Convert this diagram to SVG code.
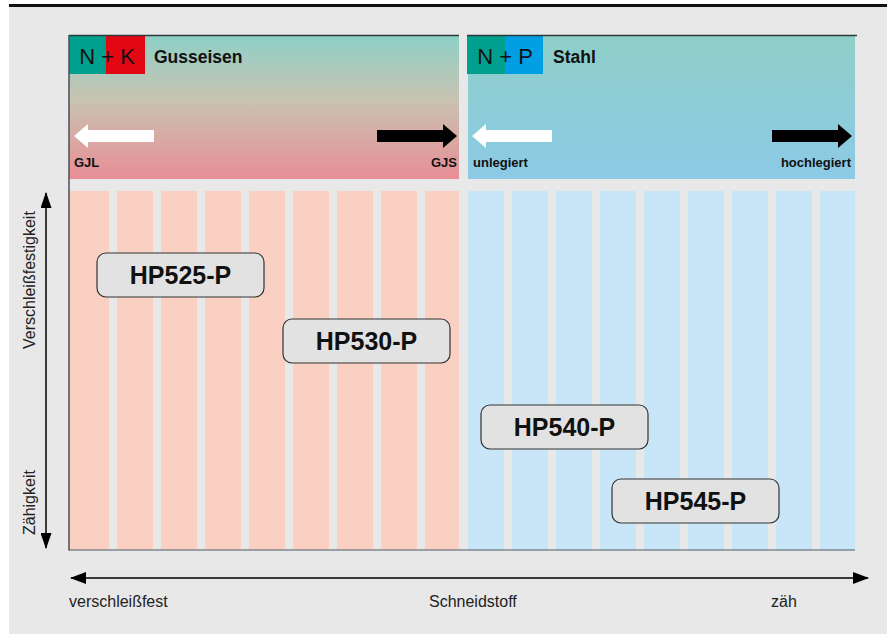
<svg xmlns="http://www.w3.org/2000/svg" width="887" height="634" viewBox="0 0 887 634">
<defs>
<linearGradient id="gLeft" x1="0" y1="0" x2="0" y2="1">
<stop offset="0" stop-color="#8dd0c7"/>
<stop offset="0.45" stop-color="#c9c3b1"/>
<stop offset="1" stop-color="#e88e96"/>
</linearGradient>
<linearGradient id="gRight" x1="0" y1="0" x2="0" y2="1">
<stop offset="0" stop-color="#8ecfc8"/>
<stop offset="1" stop-color="#8ccae6"/>
</linearGradient>
<marker id="ah" viewBox="0 0 16 12" refX="15" refY="6" markerWidth="16" markerHeight="12" markerUnits="userSpaceOnUse" orient="auto-start-reverse">
<path d="M0,0 L16,6 L0,12 Z" fill="#000"/>
</marker>
<marker id="av" viewBox="0 0 16 11" refX="15" refY="5.5" markerWidth="16" markerHeight="11" markerUnits="userSpaceOnUse" orient="auto-start-reverse">
<path d="M0,0 L16,5.5 L0,11 Z" fill="#000"/>
</marker>
</defs>
<style>
.pink{fill:#f9d0c1}
.blue{fill:#c8e6f8}
.box{fill:#e2e2e2;stroke:#333;stroke-width:1.2}
.lbl{font-family:"Liberation Sans",Arial,sans-serif;font-weight:bold;font-size:25px;fill:#111;text-anchor:middle}
.head{font-family:"Liberation Sans",Arial,sans-serif;font-weight:bold;font-size:17.5px;fill:#111}
.code{font-family:"Liberation Sans",Arial,sans-serif;font-size:22px;fill:#111}
.small{font-family:"Liberation Sans",Arial,sans-serif;font-weight:bold;font-size:13px;fill:#111}
.axis{font-family:"Liberation Sans",Arial,sans-serif;font-size:16px;fill:#222}
.ax{stroke:#000;stroke-width:1.5;fill:none}
</style>
<rect x="9" y="6" width="878" height="628" fill="#e8e8e8"/>
<rect x="9" y="4" width="878" height="3" fill="#111"/>

<g id="panel-gusseisen">
<rect x="69" y="35" width="390" height="144" fill="url(#gLeft)"/>
<rect x="69" y="35" width="37" height="39" fill="#00a08f"/>
<rect x="106" y="35" width="39" height="39" fill="#e30613"/>
<text class="code" x="107" y="64" text-anchor="middle">N + K</text>
<text class="head" x="154" y="63">Gusseisen</text>
<path d="M154,130 L88,130 L88,124 L74,136 L88,148 L88,142 L154,142 Z" fill="#fff"/>
<path d="M377,130 L443,130 L443,124 L457,136 L443,148 L443,142 L377,142 Z" fill="#000"/>
<text class="small" x="74" y="167">GJL</text>
<text class="small" x="457" y="167" text-anchor="end">GJS</text>
</g>

<g id="panel-stahl">
<rect x="468" y="35" width="387" height="144" fill="url(#gRight)"/>
<rect x="467" y="35" width="38" height="39" fill="#00a08f"/>
<rect x="505" y="35" width="38" height="39" fill="#009fe3"/>
<text class="code" x="505" y="64" text-anchor="middle">N + P</text>
<text class="head" x="553" y="63">Stahl</text>
<path d="M552,130 L486,130 L486,124 L472,136 L486,148 L486,142 L552,142 Z" fill="#fff"/>
<path d="M772,130 L838,130 L838,124 L852,136 L838,148 L838,142 L772,142 Z" fill="#000"/>
<text class="small" x="473" y="167">unlegiert</text>
<text class="small" x="851" y="167" text-anchor="end">hochlegiert</text>
</g>
<line x1="69" y1="35.5" x2="459" y2="35.5" stroke="#2d3a3a" stroke-width="1.5"/>
<line x1="467" y1="35.5" x2="857" y2="35.5" stroke="#2d3a3a" stroke-width="1.5"/>

<g id="stripes">
<rect class="pink" x="69" y="191" width="40" height="359"/>
<rect class="pink" x="117" y="191" width="36" height="359"/>
<rect class="pink" x="161" y="191" width="36" height="359"/>
<rect class="pink" x="205" y="191" width="36" height="359"/>
<rect class="pink" x="249" y="191" width="36" height="359"/>
<rect class="pink" x="293" y="191" width="36" height="359"/>
<rect class="pink" x="337" y="191" width="36" height="359"/>
<rect class="pink" x="381" y="191" width="36" height="359"/>
<rect class="pink" x="425" y="191" width="34" height="359"/>
<rect class="blue" x="468" y="191" width="36" height="359"/>
<rect class="blue" x="512" y="191" width="36" height="359"/>
<rect class="blue" x="556" y="191" width="36" height="359"/>
<rect class="blue" x="600" y="191" width="36" height="359"/>
<rect class="blue" x="644" y="191" width="36" height="359"/>
<rect class="blue" x="688" y="191" width="36" height="359"/>
<rect class="blue" x="732" y="191" width="36" height="359"/>
<rect class="blue" x="776" y="191" width="36" height="359"/>
<rect class="blue" x="820" y="191" width="35" height="359"/>
</g>
<line x1="69" y1="35" x2="69" y2="550.5" stroke="#4a4f55" stroke-width="1.5"/>
<line x1="69" y1="550" x2="855" y2="550" stroke="#4a5a6a" stroke-width="1.2"/>

<g id="hp525p">
<rect class="box" x="97" y="253" width="167" height="44" rx="9"/>
<text class="lbl" x="180.5" y="284">HP525-P</text>
</g>
<g id="hp530p">
<rect class="box" x="283" y="319" width="167" height="44" rx="9"/>
<text class="lbl" x="366.5" y="350">HP530-P</text>
</g>
<g id="hp540p">
<rect class="box" x="481" y="405" width="167" height="44" rx="9"/>
<text class="lbl" x="564.5" y="436">HP540-P</text>
</g>
<g id="hp545p">
<rect class="box" x="612" y="479" width="167" height="44" rx="9"/>
<text class="lbl" x="695.5" y="510">HP545-P</text>
</g>

<g id="connectors">
<line class="ax" x1="46" y1="193" x2="46" y2="548" marker-start="url(#av)" marker-end="url(#av)"/>
<line class="ax" x1="71" y1="578" x2="868" y2="578" marker-start="url(#ah)" marker-end="url(#ah)"/>
</g>

<text class="axis" transform="translate(35,349) rotate(-90)">Verschleißfestigkeit</text>
<text class="axis" transform="translate(35,535) rotate(-90)">Zähigkeit</text>
<text class="axis" x="69" y="607">verschleißfest</text>
<text class="axis" x="429" y="607">Schneidstoff</text>
<text class="axis" x="771" y="607">zäh</text>
</svg>
